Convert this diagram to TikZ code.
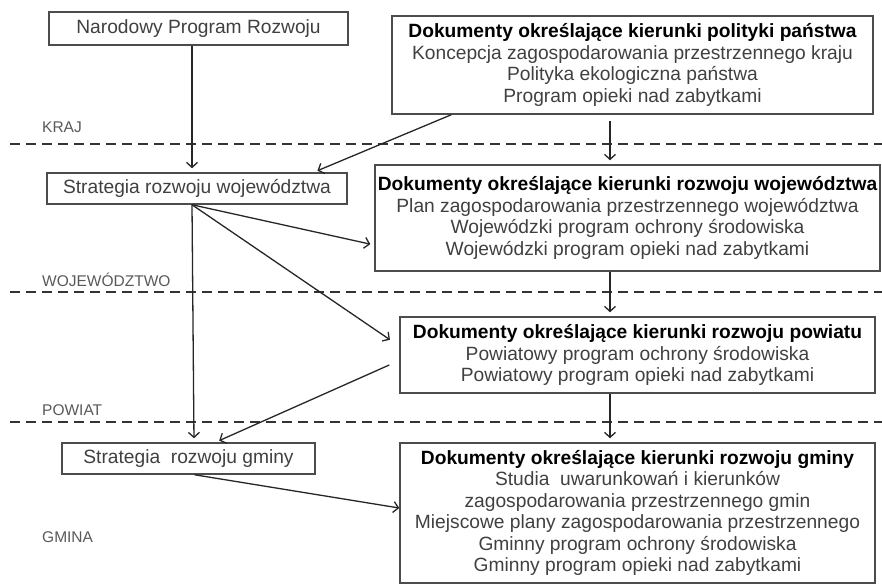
\documentclass[tikz,border=0pt]{standalone}
\usepackage{fontspec}
\setmainfont{Liberation Sans}
\usetikzlibrary{arrows.meta}
\begin{document}
\begin{tikzpicture}[x=1pt, y=-1pt,
  box/.style={draw=black!70, line width=1.5pt, align=center, inner sep=0pt,
    font=\fontsize{19.2}{21.5}\selectfont, text=black!75},
  arr/.style={-{Straight Barb[length=5pt,width=11pt]}, draw=black!85, line width=1.3pt, shorten >=4pt},
  level/.style={draw=black!80, line width=2.6pt, dash pattern=on 10pt off 6pt},
  lab/.style={anchor=west, inner sep=0pt, font=\fontsize{15.5}{18}\selectfont, text=black!65}]
\useasboundingbox (0,0) rectangle (882,586);

\coordinate (lcol) at (192, 0);
\coordinate (mid) at (610, 0);

% poziomy
\draw[level] (10,144) -- (882,144);
\draw[level] (10,292) -- (882,292);
\draw[level] (10,422) -- (882,422);

\node[lab] (kraj) at (42,127) {KRAJ};
\node[lab] (woj) at (42,280) {WOJEWÓDZTWO};
\node[lab] (pow) at (42,410) {POWIAT};
\node[lab] (gm) at (42,537) {GMINA};

% strategie
\node[box, minimum width=299, minimum height=33] (npr) at (198.5,28.5) {Narodowy Program Rozwoju};
\node[box, minimum width=300, minimum height=31] (swoj) at (197,188.5) {Strategia rozwoju województwa};
\node[box, minimum width=253, minimum height=31] (sgm) at (188.5,458.5) {Strategia\ \ rozwoju gminy};

% dokumenty
\node[box, minimum width=481, minimum height=98] (dpanst) at (632.5,65)
  {{\color{black}\bfseries Dokumenty określające kierunki polityki państwa}\\
   Koncepcja zagospodarowania przestrzennego kraju\\
   Polityka ekologiczna państwa\\
   Program opieki nad zabytkami};
\node[box, minimum width=505, minimum height=106] (dwoj) at (627.5,218)
  {{\color{black}\bfseries Dokumenty określające kierunki rozwoju województwa}\\
   Plan zagospodarowania przestrzennego województwa\\
   Wojewódzki program ochrony środowiska\\
   Wojewódzki program opieki nad zabytkami};
\node[box, minimum width=475, minimum height=76] (dpow) at (637.5,355)
  {{\color{black}\bfseries Dokumenty określające kierunki rozwoju powiatu}\\
   Powiatowy program ochrony środowiska\\
   Powiatowy program opieki nad zabytkami};
\node[box, minimum width=475, minimum height=140] (dgm) at (637.5,513)
  {{\color{black}\bfseries Dokumenty określające kierunki rozwoju gminy}\\
   Studia\ \ uwarunkowań i kierunków\\
   zagospodarowania przestrzennego gmin\\
   Miejscowe plany zagospodarowania przestrzennego\\
   Gminny program ochrony środowiska\\
   Gminny program opieki nad zabytkami};

% powiazania
\draw[arr] (npr.south -| lcol) -- (swoj.north -| lcol);
\draw[arr] ([xshift=60pt]dpanst.south west) -- ([xshift=-34pt]swoj.north east);
\draw[arr] ([yshift=-6pt]dpanst.south -| mid) -- (dwoj.north -| mid);
\draw[arr] (swoj.south -| lcol) -- ([yshift=-27pt]dwoj.west);
\draw[arr] (swoj.south -| lcol) -- ([shift={(-6pt,13pt)}]dpow.west);
\draw[arr] (swoj.south -| lcol) -- ([xshift=2pt]sgm.north -| lcol);
\draw[arr] (dwoj.south -| mid) -- (dpow.north -| mid);
\draw[arr] ([shift={(-10pt,-10pt)}]dpow.west) -- ([xshift=27pt]sgm.north);
\draw[arr] (dpow.south -| mid) -- (dgm.north -| mid);
\draw[arr, shorten >=0pt] ([xshift=6pt]sgm.south) -- ([yshift=5pt]dgm.west);
\end{tikzpicture}
\end{document}
